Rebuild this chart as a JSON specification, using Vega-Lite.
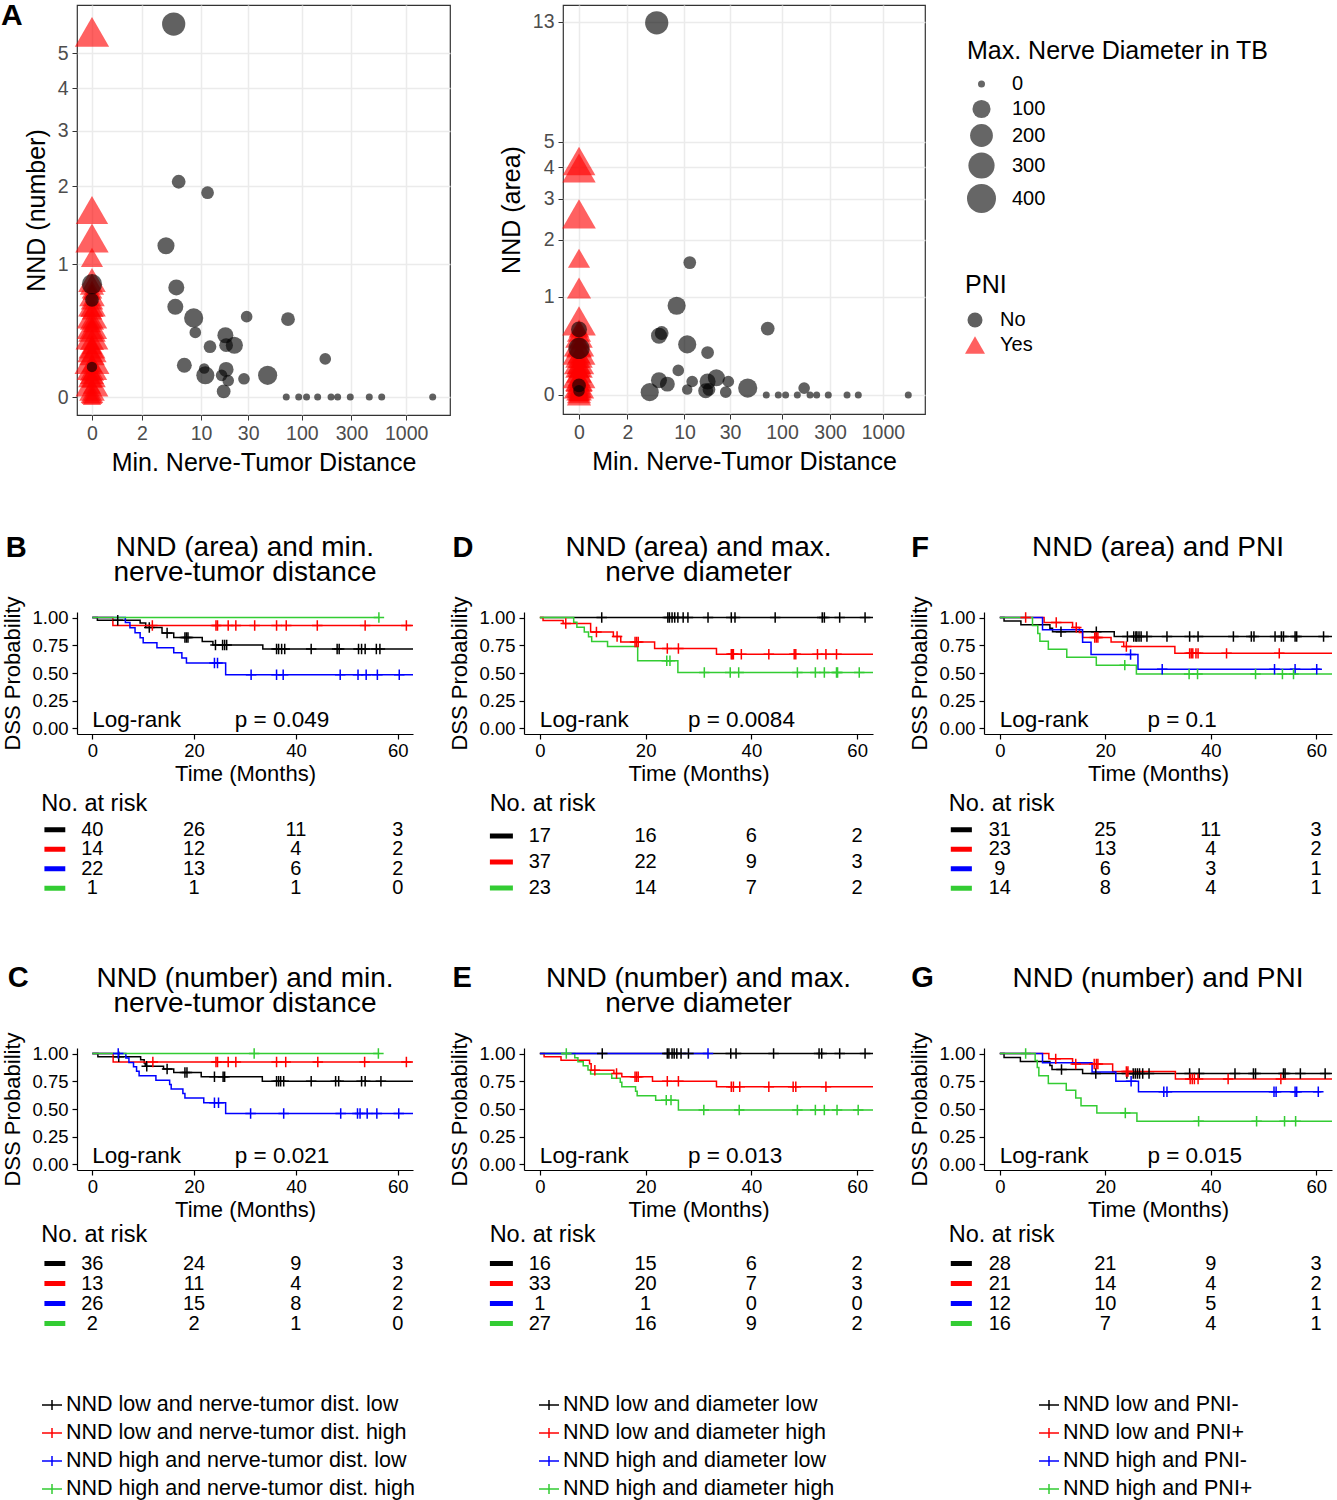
{
"$schema": "https://vega.github.io/schema/vega-lite/v6.json",
"padding": {"left": 0, "top": 0, "right": 2, "bottom": 2},
"background": "white",
"config": {
  "font": "Liberation Sans",
  "view": {"stroke": null},
  "axis": {"labelFont": "Liberation Sans", "titleFont": "Liberation Sans", "titleFontWeight": "normal", "labelOverlap": false, "labelFlush": false},
  "legend": {"labelFont": "Liberation Sans", "titleFont": "Liberation Sans", "titleFontWeight": "normal", "labelLimit": 600, "titleLimit": 600},
  "text": {"font": "Liberation Sans"}
},
"datasets": {
"sc1": [
{"d":0,"v":5.7,"m":283,"pni":"Yes"},{"d":0,"v":1.65,"m":239,"pni":"Yes"},{"d":0,"v":1.29,"m":262,"pni":"Yes"},{"d":0,"v":1.07,"m":75,"pni":"Yes"},
{"d":0,"v":0.84,"m":150,"pni":"Yes"},{"d":0,"v":0.8,"m":100,"pni":"Yes"},{"d":0,"v":0.75,"m":60,"pni":"Yes"},{"d":0,"v":0.73,"m":40,"pni":"Yes"},{"d":0,"v":0.7,"m":120,"pni":"Yes"},{"d":0,"v":0.66,"m":80,"pni":"Yes"},{"d":0,"v":0.62,"m":150,"pni":"Yes"},{"d":0,"v":0.6,"m":90,"pni":"Yes"},{"d":0,"v":0.57,"m":60,"pni":"Yes"},{"d":0,"v":0.53,"m":200,"pni":"Yes"},{"d":0,"v":0.5,"m":100,"pni":"Yes"},{"d":0,"v":0.46,"m":40,"pni":"Yes"},{"d":0,"v":0.45,"m":200,"pni":"Yes"},{"d":0,"v":0.42,"m":150,"pni":"Yes"},{"d":0,"v":0.38,"m":250,"pni":"Yes"},{"d":0,"v":0.35,"m":100,"pni":"Yes"},{"d":0,"v":0.31,"m":60,"pni":"Yes"},{"d":0,"v":0.3,"m":140,"pni":"Yes"},{"d":0,"v":0.28,"m":180,"pni":"Yes"},{"d":0,"v":0.25,"m":120,"pni":"Yes"},{"d":0,"v":0.22,"m":300,"pni":"Yes"},{"d":0,"v":0.19,"m":60,"pni":"Yes"},{"d":0,"v":0.17,"m":200,"pni":"Yes"},{"d":0,"v":0.15,"m":100,"pni":"Yes"},{"d":0,"v":0.13,"m":100,"pni":"Yes"},{"d":0,"v":0.12,"m":150,"pni":"Yes"},{"d":0,"v":0.1,"m":60,"pni":"Yes"},{"d":0,"v":0.08,"m":250,"pni":"Yes"},{"d":0,"v":0.06,"m":40,"pni":"Yes"},{"d":0,"v":0.04,"m":120,"pni":"Yes"},{"d":0,"v":0.02,"m":80,"pni":"Yes"},{"d":0,"v":0.01,"m":60,"pni":"Yes"},{"d":0,"v":0,"m":40,"pni":"Yes"},
{"d":0,"v":0.8,"m":140,"pni":"No"},{"d":0,"v":0.66,"m":40,"pni":"No"},{"d":0,"v":0.17,"m":13,"pni":"No"},
{"d":5.03,"v":5.98,"m":212,"pni":"No"},{"d":5.73,"v":2.07,"m":40,"pni":"No"},{"d":11.7,"v":1.9,"m":30,"pni":"No"},{"d":4.09,"v":1.2,"m":83,"pni":"No"},{"d":5.39,"v":0.77,"m":67,"pni":"No"},{"d":5.25,"v":0.6,"m":67,"pni":"No"},{"d":8.36,"v":0.51,"m":119,"pni":"No"},{"d":29,"v":0.52,"m":21,"pni":"No"},{"d":73.5,"v":0.5,"m":40,"pni":"No"},{"d":8.7,"v":0.4,"m":21,"pni":"No"},{"d":17.8,"v":0.38,"m":67,"pni":"No"},{"d":12.4,"v":0.3,"m":30,"pni":"No"},{"d":18.1,"v":0.31,"m":40,"pni":"No"},{"d":21.9,"v":0.31,"m":83,"pni":"No"},{"d":168,"v":0.22,"m":21,"pni":"No"},{"d":6.62,"v":0.18,"m":53,"pni":"No"},{"d":10.8,"v":0.16,"m":13,"pni":"No"},{"d":11.1,"v":0.12,"m":100,"pni":"No"},{"d":18.1,"v":0.155,"m":53,"pni":"No"},{"d":16.3,"v":0.12,"m":21,"pni":"No"},{"d":19,"v":0.09,"m":21,"pni":"No"},{"d":27.3,"v":0.1,"m":21,"pni":"No"},{"d":46.6,"v":0.12,"m":119,"pni":"No"},{"d":17.1,"v":0.03,"m":40,"pni":"No"},
{"d":70.7,"v":0,"m":0,"pni":"No"},{"d":93.3,"v":0,"m":0,"pni":"No"},{"d":111,"v":0,"m":0,"pni":"No"},{"d":142,"v":0,"m":0,"pni":"No"},{"d":191,"v":0,"m":0,"pni":"No"},{"d":221,"v":0,"m":0,"pni":"No"},{"d":292,"v":0,"m":0,"pni":"No"},{"d":444,"v":0,"m":0,"pni":"No"},{"d":584,"v":0,"m":0,"pni":"No"},{"d":1794,"v":0,"m":0,"pni":"No"}
],
"sc2": [
{"d":0,"v":4.23,"m":250,"pni":"Yes"},{"d":0,"v":3.98,"m":262,"pni":"Yes"},{"d":0,"v":2.6,"m":270,"pni":"Yes"},{"d":0,"v":1.63,"m":75,"pni":"Yes"},{"d":0,"v":1.13,"m":100,"pni":"Yes"},{"d":0,"v":0.69,"m":270,"pni":"Yes"},
{"d":0,"v":0.6,"m":60,"pni":"Yes"},{"d":0,"v":0.57,"m":100,"pni":"Yes"},{"d":0,"v":0.52,"m":150,"pni":"Yes"},{"d":0,"v":0.47,"m":60,"pni":"Yes"},{"d":0,"v":0.44,"m":200,"pni":"Yes"},{"d":0,"v":0.41,"m":120,"pni":"Yes"},{"d":0,"v":0.37,"m":250,"pni":"Yes"},{"d":0,"v":0.34,"m":80,"pni":"Yes"},{"d":0,"v":0.32,"m":150,"pni":"Yes"},{"d":0,"v":0.29,"m":60,"pni":"Yes"},{"d":0,"v":0.27,"m":200,"pni":"Yes"},{"d":0,"v":0.25,"m":100,"pni":"Yes"},{"d":0,"v":0.23,"m":150,"pni":"Yes"},{"d":0,"v":0.22,"m":90,"pni":"Yes"},{"d":0,"v":0.2,"m":60,"pni":"Yes"},{"d":0,"v":0.18,"m":120,"pni":"Yes"},{"d":0,"v":0.16,"m":250,"pni":"Yes"},{"d":0,"v":0.14,"m":80,"pni":"Yes"},{"d":0,"v":0.12,"m":150,"pni":"Yes"},{"d":0,"v":0.11,"m":140,"pni":"Yes"},{"d":0,"v":0.1,"m":60,"pni":"Yes"},{"d":0,"v":0.08,"m":100,"pni":"Yes"},{"d":0,"v":0.07,"m":200,"pni":"Yes"},{"d":0,"v":0.06,"m":120,"pni":"Yes"},{"d":0,"v":0.05,"m":40,"pni":"Yes"},{"d":0,"v":0.04,"m":120,"pni":"Yes"},{"d":0,"v":0.03,"m":80,"pni":"Yes"},{"d":0,"v":0.02,"m":60,"pni":"Yes"},{"d":0,"v":0.015,"m":100,"pni":"Yes"},{"d":0,"v":0.01,"m":40,"pni":"Yes"},{"d":0,"v":0,"m":100,"pni":"Yes"},
{"d":0,"v":0.59,"m":67,"pni":"No"},{"d":0,"v":0.39,"m":162,"pni":"No"},{"d":0,"v":0.07,"m":40,"pni":"No"},{"d":0,"v":0.03,"m":21,"pni":"No"},
{"d":4.85,"v":12.9,"m":212,"pni":"No"},{"d":11.4,"v":1.55,"m":30,"pni":"No"},{"d":8.2,"v":0.88,"m":100,"pni":"No"},{"d":5.55,"v":0.55,"m":40,"pni":"No"},{"d":5.16,"v":0.52,"m":67,"pni":"No"},{"d":72,"v":0.6,"m":40,"pni":"No"},{"d":10.7,"v":0.43,"m":100,"pni":"No"},{"d":17.6,"v":0.35,"m":30,"pni":"No"},{"d":8.55,"v":0.19,"m":21,"pni":"No"},{"d":5.16,"v":0.11,"m":67,"pni":"No"},{"d":6.45,"v":0.08,"m":53,"pni":"No"},{"d":12.1,"v":0.1,"m":21,"pni":"No"},{"d":21.7,"v":0.13,"m":83,"pni":"No"},{"d":17.6,"v":0.1,"m":67,"pni":"No"},{"d":28.8,"v":0.1,"m":21,"pni":"No"},{"d":10.7,"v":0.04,"m":13,"pni":"No"},{"d":16.8,"v":0.03,"m":53,"pni":"No"},{"d":18.2,"v":0.04,"m":30,"pni":"No"},{"d":27.1,"v":0.02,"m":21,"pni":"No"},{"d":3.99,"v":0.02,"m":100,"pni":"No"},{"d":45.3,"v":0.05,"m":119,"pni":"No"},{"d":166,"v":0.05,"m":21,"pni":"No"},
{"d":69.6,"v":0,"m":0,"pni":"No"},{"d":91.8,"v":0,"m":0,"pni":"No"},{"d":108.6,"v":0,"m":0,"pni":"No"},{"d":142,"v":0,"m":0,"pni":"No"},{"d":190,"v":0,"m":0,"pni":"No"},{"d":221,"v":0,"m":0,"pni":"No"},{"d":288,"v":0,"m":0,"pni":"No"},{"d":442,"v":0,"m":0,"pni":"No"},{"d":571,"v":0,"m":0,"pni":"No"},{"d":1781,"v":0,"m":0,"pni":"No"}
],
"km": [
{"p":"B","g":"LL","t":0,"s":1},{"p":"B","g":"LL","t":1,"s":0.975},{"p":"B","g":"LL","t":9.4,"s":0.95},{"p":"B","g":"LL","t":10.5,"s":0.91},{"p":"B","g":"LL","t":13.7,"s":0.86},{"p":"B","g":"LL","t":16,"s":0.82},{"p":"B","g":"LL","t":21.6,"s":0.785},{"p":"B","g":"LL","t":23.7,"s":0.753},{"p":"B","g":"LL","t":33.5,"s":0.717},{"p":"B","g":"LL","t":63,"s":0.717},
{"p":"B","g":"LH","t":0,"s":1},{"p":"B","g":"LH","t":4.05,"s":0.929},{"p":"B","g":"LH","t":63,"s":0.929},
{"p":"B","g":"HL","t":0,"s":1},{"p":"B","g":"HL","t":6.5,"s":0.955},{"p":"B","g":"HL","t":7.4,"s":0.909},{"p":"B","g":"HL","t":8.4,"s":0.864},{"p":"B","g":"HL","t":9.4,"s":0.818},{"p":"B","g":"HL","t":10,"s":0.773},{"p":"B","g":"HL","t":12.7,"s":0.727},{"p":"B","g":"HL","t":16,"s":0.682},{"p":"B","g":"HL","t":17.6,"s":0.636},{"p":"B","g":"HL","t":18.5,"s":0.591},{"p":"B","g":"HL","t":26.2,"s":0.485},{"p":"B","g":"HL","t":63,"s":0.485},
{"p":"B","g":"HH","t":0,"s":1},{"p":"B","g":"HH","t":56.4,"s":1},
{"p":"D","g":"LL","t":0,"s":1},{"p":"D","g":"LL","t":63,"s":1},
{"p":"D","g":"LH","t":0,"s":1},{"p":"D","g":"LH","t":0.6,"s":0.973},{"p":"D","g":"LH","t":4.4,"s":0.946},{"p":"D","g":"LH","t":9.6,"s":0.87},{"p":"D","g":"LH","t":13.9,"s":0.83},{"p":"D","g":"LH","t":15.3,"s":0.78},{"p":"D","g":"LH","t":21.7,"s":0.72},{"p":"D","g":"LH","t":33.4,"s":0.67},{"p":"D","g":"LH","t":63,"s":0.67},
{"p":"D","g":"HH","t":0,"s":1},{"p":"D","g":"HH","t":6.4,"s":0.957},{"p":"D","g":"HH","t":7,"s":0.913},{"p":"D","g":"HH","t":8.4,"s":0.87},{"p":"D","g":"HH","t":9.2,"s":0.826},{"p":"D","g":"HH","t":9.8,"s":0.783},{"p":"D","g":"HH","t":12.8,"s":0.74},{"p":"D","g":"HH","t":18.5,"s":0.61},{"p":"D","g":"HH","t":26.1,"s":0.505},{"p":"D","g":"HH","t":63,"s":0.505},
{"p":"F","g":"LL","t":0,"s":1},{"p":"F","g":"LL","t":0.8,"s":0.968},{"p":"F","g":"LL","t":4,"s":0.935},{"p":"F","g":"LL","t":9.5,"s":0.903},{"p":"F","g":"LL","t":10,"s":0.871},{"p":"F","g":"LL","t":21.7,"s":0.83},{"p":"F","g":"LL","t":63,"s":0.83},
{"p":"F","g":"LH","t":0,"s":1},{"p":"F","g":"LH","t":8.4,"s":0.955},{"p":"F","g":"LH","t":13.8,"s":0.91},{"p":"F","g":"LH","t":15.1,"s":0.865},{"p":"F","g":"LH","t":15.7,"s":0.82},{"p":"F","g":"LH","t":21.1,"s":0.78},{"p":"F","g":"LH","t":23.5,"s":0.74},{"p":"F","g":"LH","t":33.2,"s":0.677},{"p":"F","g":"LH","t":63,"s":0.677},
{"p":"F","g":"HL","t":0,"s":1},{"p":"F","g":"HL","t":8.1,"s":0.889},{"p":"F","g":"HL","t":15.7,"s":0.778},{"p":"F","g":"HL","t":17.3,"s":0.667},{"p":"F","g":"HL","t":26.2,"s":0.533},{"p":"F","g":"HL","t":60.8,"s":0.533},
{"p":"F","g":"HH","t":0,"s":1},{"p":"F","g":"HH","t":6.2,"s":0.929},{"p":"F","g":"HH","t":7.2,"s":0.857},{"p":"F","g":"HH","t":7.6,"s":0.786},{"p":"F","g":"HH","t":9.2,"s":0.714},{"p":"F","g":"HH","t":12.7,"s":0.643},{"p":"F","g":"HH","t":18.3,"s":0.571},{"p":"F","g":"HH","t":25.9,"s":0.49},{"p":"F","g":"HH","t":63,"s":0.49},
{"p":"C","g":"LL","t":0,"s":1},{"p":"C","g":"LL","t":1.1,"s":0.972},{"p":"C","g":"LL","t":9.5,"s":0.944},{"p":"C","g":"LL","t":10.2,"s":0.915},{"p":"C","g":"LL","t":10.4,"s":0.886},{"p":"C","g":"LL","t":14,"s":0.86},{"p":"C","g":"LL","t":16,"s":0.83},{"p":"C","g":"LL","t":21.4,"s":0.79},{"p":"C","g":"LL","t":33.4,"s":0.75},{"p":"C","g":"LL","t":63,"s":0.75},
{"p":"C","g":"LH","t":0,"s":1},{"p":"C","g":"LH","t":4.1,"s":0.923},{"p":"C","g":"LH","t":63,"s":0.923},
{"p":"C","g":"HL","t":0,"s":1},{"p":"C","g":"HL","t":6.6,"s":0.96},{"p":"C","g":"HL","t":7.2,"s":0.92},{"p":"C","g":"HL","t":8.1,"s":0.88},{"p":"C","g":"HL","t":8.7,"s":0.84},{"p":"C","g":"HL","t":9.2,"s":0.8},{"p":"C","g":"HL","t":12.5,"s":0.76},{"p":"C","g":"HL","t":15.2,"s":0.72},{"p":"C","g":"HL","t":15.5,"s":0.68},{"p":"C","g":"HL","t":17.8,"s":0.64},{"p":"C","g":"HL","t":18.2,"s":0.6},{"p":"C","g":"HL","t":21.9,"s":0.556},{"p":"C","g":"HL","t":26.2,"s":0.46},{"p":"C","g":"HL","t":63,"s":0.46},
{"p":"C","g":"HH","t":0,"s":1},{"p":"C","g":"HH","t":56.4,"s":1},
{"p":"E","g":"LL","t":0,"s":1},{"p":"E","g":"LL","t":63,"s":1},
{"p":"E","g":"LH","t":0,"s":1},{"p":"E","g":"LH","t":0.8,"s":0.97},{"p":"E","g":"LH","t":4,"s":0.94},{"p":"E","g":"LH","t":9.4,"s":0.909},{"p":"E","g":"LH","t":9.7,"s":0.85},{"p":"E","g":"LH","t":14,"s":0.82},{"p":"E","g":"LH","t":15.5,"s":0.79},{"p":"E","g":"LH","t":21.3,"s":0.75},{"p":"E","g":"LH","t":33.4,"s":0.7},{"p":"E","g":"LH","t":63,"s":0.7},
{"p":"E","g":"HH","t":0,"s":1},{"p":"E","g":"HH","t":6.6,"s":0.963},{"p":"E","g":"HH","t":7.2,"s":0.926},{"p":"E","g":"HH","t":8.2,"s":0.889},{"p":"E","g":"HH","t":9.1,"s":0.852},{"p":"E","g":"HH","t":9.6,"s":0.815},{"p":"E","g":"HH","t":13.6,"s":0.778},{"p":"E","g":"HH","t":15.2,"s":0.741},{"p":"E","g":"HH","t":15.5,"s":0.7},{"p":"E","g":"HH","t":18.1,"s":0.66},{"p":"E","g":"HH","t":18.4,"s":0.62},{"p":"E","g":"HH","t":21.9,"s":0.58},{"p":"E","g":"HH","t":26.2,"s":0.49},{"p":"E","g":"HH","t":63,"s":0.49},
{"p":"E","g":"HL","t":0,"s":1},{"p":"E","g":"HL","t":31.8,"s":1},
{"p":"G","g":"LL","t":0,"s":1},{"p":"G","g":"LL","t":0.8,"s":0.964},{"p":"G","g":"LL","t":3.9,"s":0.929},{"p":"G","g":"LL","t":9.5,"s":0.893},{"p":"G","g":"LL","t":9.9,"s":0.857},{"p":"G","g":"LL","t":15.7,"s":0.82},{"p":"G","g":"LL","t":63,"s":0.82},
{"p":"G","g":"LH","t":0,"s":1},{"p":"G","g":"LH","t":9.3,"s":0.952},{"p":"G","g":"LH","t":13.8,"s":0.905},{"p":"G","g":"LH","t":21.4,"s":0.838},{"p":"G","g":"LH","t":33.3,"s":0.77},{"p":"G","g":"LH","t":63,"s":0.77},
{"p":"G","g":"HL","t":0,"s":1},{"p":"G","g":"HL","t":8.1,"s":0.917},{"p":"G","g":"HL","t":17.5,"s":0.833},{"p":"G","g":"HL","t":22,"s":0.75},{"p":"G","g":"HL","t":26.3,"s":0.655},{"p":"G","g":"HL","t":61,"s":0.655},
{"p":"G","g":"HH","t":0,"s":1},{"p":"G","g":"HH","t":6.7,"s":0.9375},{"p":"G","g":"HH","t":7.1,"s":0.875},{"p":"G","g":"HH","t":7.4,"s":0.8},{"p":"G","g":"HH","t":9.2,"s":0.73},{"p":"G","g":"HH","t":12.6,"s":0.67},{"p":"G","g":"HH","t":14.4,"s":0.6},{"p":"G","g":"HH","t":15.4,"s":0.53},{"p":"G","g":"HH","t":18.4,"s":0.465},{"p":"G","g":"HH","t":26,"s":0.39},{"p":"G","g":"HH","t":63,"s":0.39}
],
"cens": [
{"p":"B","g":"LL","t":5,"s":0.975},{"p":"B","g":"LL","t":11.2,"s":0.91},{"p":"B","g":"LL","t":14.7,"s":0.86},{"p":"B","g":"LL","t":18.2,"s":0.82},{"p":"B","g":"LL","t":18.5,"s":0.82},{"p":"B","g":"LL","t":18.8,"s":0.82},{"p":"B","g":"LL","t":24.2,"s":0.753},{"p":"B","g":"LL","t":25.6,"s":0.753},{"p":"B","g":"LL","t":26,"s":0.753},{"p":"B","g":"LL","t":26.4,"s":0.753},{"p":"B","g":"LL","t":36.2,"s":0.717},{"p":"B","g":"LL","t":36.6,"s":0.717},{"p":"B","g":"LL","t":37.2,"s":0.717},{"p":"B","g":"LL","t":37.8,"s":0.717},{"p":"B","g":"LL","t":43,"s":0.717},{"p":"B","g":"LL","t":48.1,"s":0.717},{"p":"B","g":"LL","t":48.5,"s":0.717},{"p":"B","g":"LL","t":52.3,"s":0.717},{"p":"B","g":"LL","t":52.9,"s":0.717},{"p":"B","g":"LL","t":53.6,"s":0.717},{"p":"B","g":"LL","t":55.8,"s":0.717},{"p":"B","g":"LL","t":56.5,"s":0.717},
{"p":"B","g":"LH","t":11.8,"s":0.929},{"p":"B","g":"LH","t":24.3,"s":0.929},{"p":"B","g":"LH","t":24.6,"s":0.929},{"p":"B","g":"LH","t":26.7,"s":0.929},{"p":"B","g":"LH","t":28.2,"s":0.929},{"p":"B","g":"LH","t":31.9,"s":0.929},{"p":"B","g":"LH","t":36.2,"s":0.929},{"p":"B","g":"LH","t":38.1,"s":0.929},{"p":"B","g":"LH","t":44.2,"s":0.929},{"p":"B","g":"LH","t":53.6,"s":0.929},{"p":"B","g":"LH","t":61.7,"s":0.929},
{"p":"B","g":"HL","t":24,"s":0.591},{"p":"B","g":"HL","t":24.6,"s":0.591},{"p":"B","g":"HL","t":31.2,"s":0.485},{"p":"B","g":"HL","t":36.2,"s":0.485},{"p":"B","g":"HL","t":37.5,"s":0.485},{"p":"B","g":"HL","t":48.7,"s":0.485},{"p":"B","g":"HL","t":52.2,"s":0.485},{"p":"B","g":"HL","t":53.8,"s":0.485},{"p":"B","g":"HL","t":56,"s":0.485},{"p":"B","g":"HL","t":60.3,"s":0.485},
{"p":"B","g":"HH","t":56.3,"s":1},
{"p":"D","g":"LL","t":11.7,"s":1},{"p":"D","g":"LL","t":24.2,"s":1},{"p":"D","g":"LL","t":24.5,"s":1},{"p":"D","g":"LL","t":25,"s":1},{"p":"D","g":"LL","t":25.5,"s":1},{"p":"D","g":"LL","t":26.1,"s":1},{"p":"D","g":"LL","t":27.1,"s":1},{"p":"D","g":"LL","t":28,"s":1},{"p":"D","g":"LL","t":31.8,"s":1},{"p":"D","g":"LL","t":36.2,"s":1},{"p":"D","g":"LL","t":36.9,"s":1},{"p":"D","g":"LL","t":44.5,"s":1},{"p":"D","g":"LL","t":53.4,"s":1},{"p":"D","g":"LL","t":53.8,"s":1},{"p":"D","g":"LL","t":56.7,"s":1},{"p":"D","g":"LL","t":61.5,"s":1},
{"p":"D","g":"LH","t":4.9,"s":0.946},{"p":"D","g":"LH","t":10.7,"s":0.87},{"p":"D","g":"LH","t":14.6,"s":0.83},{"p":"D","g":"LH","t":18,"s":0.78},{"p":"D","g":"LH","t":18.3,"s":0.78},{"p":"D","g":"LH","t":18.6,"s":0.78},{"p":"D","g":"LH","t":24.1,"s":0.72},{"p":"D","g":"LH","t":26.2,"s":0.72},{"p":"D","g":"LH","t":36.2,"s":0.67},{"p":"D","g":"LH","t":36.4,"s":0.67},{"p":"D","g":"LH","t":36.6,"s":0.67},{"p":"D","g":"LH","t":38.1,"s":0.67},{"p":"D","g":"LH","t":43.3,"s":0.67},{"p":"D","g":"LH","t":48.1,"s":0.67},{"p":"D","g":"LH","t":48.4,"s":0.67},{"p":"D","g":"LH","t":52.5,"s":0.67},{"p":"D","g":"LH","t":54.1,"s":0.67},{"p":"D","g":"LH","t":56.1,"s":0.67},
{"p":"D","g":"HH","t":24,"s":0.61},{"p":"D","g":"HH","t":24.6,"s":0.61},{"p":"D","g":"HH","t":31.1,"s":0.505},{"p":"D","g":"HH","t":36,"s":0.505},{"p":"D","g":"HH","t":37.6,"s":0.505},{"p":"D","g":"HH","t":48.7,"s":0.505},{"p":"D","g":"HH","t":52.1,"s":0.505},{"p":"D","g":"HH","t":53.8,"s":0.505},{"p":"D","g":"HH","t":56.1,"s":0.505},{"p":"D","g":"HH","t":56.3,"s":0.505},{"p":"D","g":"HH","t":60.4,"s":0.505},
{"p":"F","g":"LL","t":11.6,"s":0.871},{"p":"F","g":"LL","t":18.3,"s":0.871},{"p":"F","g":"LL","t":24.2,"s":0.83},{"p":"F","g":"LL","t":25.4,"s":0.83},{"p":"F","g":"LL","t":25.8,"s":0.83},{"p":"F","g":"LL","t":26,"s":0.83},{"p":"F","g":"LL","t":26.4,"s":0.83},{"p":"F","g":"LL","t":26.8,"s":0.83},{"p":"F","g":"LL","t":27.9,"s":0.83},{"p":"F","g":"LL","t":31.7,"s":0.83},{"p":"F","g":"LL","t":36,"s":0.83},{"p":"F","g":"LL","t":37.6,"s":0.83},{"p":"F","g":"LL","t":44.3,"s":0.83},{"p":"F","g":"LL","t":47.7,"s":0.83},{"p":"F","g":"LL","t":48.2,"s":0.83},{"p":"F","g":"LL","t":52.2,"s":0.83},{"p":"F","g":"LL","t":53.4,"s":0.83},{"p":"F","g":"LL","t":53.8,"s":0.83},{"p":"F","g":"LL","t":56,"s":0.83},{"p":"F","g":"LL","t":56.3,"s":0.83},{"p":"F","g":"LL","t":61.4,"s":0.83},
{"p":"F","g":"LH","t":4.9,"s":1},{"p":"F","g":"LH","t":10.7,"s":0.955},{"p":"F","g":"LH","t":14.5,"s":0.91},{"p":"F","g":"LH","t":18,"s":0.82},{"p":"F","g":"LH","t":18.3,"s":0.82},{"p":"F","g":"LH","t":18.6,"s":0.82},{"p":"F","g":"LH","t":24,"s":0.74},{"p":"F","g":"LH","t":36,"s":0.677},{"p":"F","g":"LH","t":36.3,"s":0.677},{"p":"F","g":"LH","t":36.6,"s":0.677},{"p":"F","g":"LH","t":37.2,"s":0.677},{"p":"F","g":"LH","t":37.6,"s":0.677},{"p":"F","g":"LH","t":43,"s":0.677},{"p":"F","g":"LH","t":53,"s":0.677},
{"p":"F","g":"HL","t":24.8,"s":0.667},{"p":"F","g":"HL","t":30.8,"s":0.533},{"p":"F","g":"HL","t":52.1,"s":0.533},{"p":"F","g":"HL","t":56,"s":0.533},{"p":"F","g":"HL","t":60.1,"s":0.533},
{"p":"F","g":"HH","t":23.7,"s":0.571},{"p":"F","g":"HH","t":35.9,"s":0.49},{"p":"F","g":"HH","t":37.5,"s":0.49},{"p":"F","g":"HH","t":48.5,"s":0.49},{"p":"F","g":"HH","t":53.6,"s":0.49},{"p":"F","g":"HH","t":55.7,"s":0.49},
{"p":"C","g":"LL","t":5.2,"s":0.972},{"p":"C","g":"LL","t":10.7,"s":0.886},{"p":"C","g":"LL","t":14.7,"s":0.86},{"p":"C","g":"LL","t":18.2,"s":0.83},{"p":"C","g":"LL","t":18.6,"s":0.83},{"p":"C","g":"LL","t":24,"s":0.79},{"p":"C","g":"LL","t":25.7,"s":0.79},{"p":"C","g":"LL","t":26,"s":0.79},{"p":"C","g":"LL","t":36.2,"s":0.75},{"p":"C","g":"LL","t":36.6,"s":0.75},{"p":"C","g":"LL","t":37,"s":0.75},{"p":"C","g":"LL","t":37.6,"s":0.75},{"p":"C","g":"LL","t":43,"s":0.75},{"p":"C","g":"LL","t":47.8,"s":0.75},{"p":"C","g":"LL","t":48.4,"s":0.75},{"p":"C","g":"LL","t":52.9,"s":0.75},{"p":"C","g":"LL","t":53.6,"s":0.75},{"p":"C","g":"LL","t":56.7,"s":0.75},
{"p":"C","g":"LH","t":11.9,"s":0.923},{"p":"C","g":"LH","t":24.3,"s":0.923},{"p":"C","g":"LH","t":24.6,"s":0.923},{"p":"C","g":"LH","t":26.7,"s":0.923},{"p":"C","g":"LH","t":28.2,"s":0.923},{"p":"C","g":"LH","t":36.2,"s":0.923},{"p":"C","g":"LH","t":38,"s":0.923},{"p":"C","g":"LH","t":44.3,"s":0.923},{"p":"C","g":"LH","t":53.5,"s":0.923},{"p":"C","g":"LH","t":61.7,"s":0.923},
{"p":"C","g":"HL","t":5.1,"s":1},{"p":"C","g":"HL","t":24,"s":0.556},{"p":"C","g":"HL","t":24.8,"s":0.556},{"p":"C","g":"HL","t":31.1,"s":0.46},{"p":"C","g":"HL","t":37.6,"s":0.46},{"p":"C","g":"HL","t":48.8,"s":0.46},{"p":"C","g":"HL","t":52.1,"s":0.46},{"p":"C","g":"HL","t":52.6,"s":0.46},{"p":"C","g":"HL","t":54,"s":0.46},{"p":"C","g":"HL","t":55.9,"s":0.46},{"p":"C","g":"HL","t":60.2,"s":0.46},
{"p":"C","g":"HH","t":31.8,"s":1},{"p":"C","g":"HH","t":56.2,"s":1},
{"p":"E","g":"LL","t":11.8,"s":1},{"p":"E","g":"LL","t":24.1,"s":1},{"p":"E","g":"LL","t":24.4,"s":1},{"p":"E","g":"LL","t":25,"s":1},{"p":"E","g":"LL","t":25.4,"s":1},{"p":"E","g":"LL","t":25.9,"s":1},{"p":"E","g":"LL","t":26.7,"s":1},{"p":"E","g":"LL","t":28.1,"s":1},{"p":"E","g":"LL","t":36.1,"s":1},{"p":"E","g":"LL","t":37.1,"s":1},{"p":"E","g":"LL","t":44.2,"s":1},{"p":"E","g":"LL","t":52.8,"s":1},{"p":"E","g":"LL","t":53.3,"s":1},{"p":"E","g":"LL","t":56.7,"s":1},{"p":"E","g":"LL","t":61.5,"s":1},
{"p":"E","g":"LH","t":10.4,"s":0.85},{"p":"E","g":"LH","t":14.5,"s":0.82},{"p":"E","g":"LH","t":18,"s":0.79},{"p":"E","g":"LH","t":18.3,"s":0.79},{"p":"E","g":"LH","t":18.6,"s":0.79},{"p":"E","g":"LH","t":24.1,"s":0.75},{"p":"E","g":"LH","t":26.2,"s":0.75},{"p":"E","g":"LH","t":36.2,"s":0.7},{"p":"E","g":"LH","t":36.6,"s":0.7},{"p":"E","g":"LH","t":37.8,"s":0.7},{"p":"E","g":"LH","t":43.3,"s":0.7},{"p":"E","g":"LH","t":47.9,"s":0.7},{"p":"E","g":"LH","t":48.4,"s":0.7},{"p":"E","g":"LH","t":54.1,"s":0.7},
{"p":"E","g":"HL","t":31.8,"s":1},
{"p":"E","g":"HH","t":5,"s":1},{"p":"E","g":"HH","t":23.9,"s":0.58},{"p":"E","g":"HH","t":24.8,"s":0.58},{"p":"E","g":"HH","t":31,"s":0.49},{"p":"E","g":"HH","t":37.7,"s":0.49},{"p":"E","g":"HH","t":48.7,"s":0.49},{"p":"E","g":"HH","t":52.1,"s":0.49},{"p":"E","g":"HH","t":53.8,"s":0.49},{"p":"E","g":"HH","t":56.2,"s":0.49},{"p":"E","g":"HH","t":60.2,"s":0.49},
{"p":"G","g":"LL","t":11.7,"s":0.857},{"p":"G","g":"LL","t":18.2,"s":0.82},{"p":"G","g":"LL","t":24.1,"s":0.82},{"p":"G","g":"LL","t":25.3,"s":0.82},{"p":"G","g":"LL","t":25.7,"s":0.82},{"p":"G","g":"LL","t":26.1,"s":0.82},{"p":"G","g":"LL","t":26.5,"s":0.82},{"p":"G","g":"LL","t":27.1,"s":0.82},{"p":"G","g":"LL","t":28.3,"s":0.82},{"p":"G","g":"LL","t":36,"s":0.82},{"p":"G","g":"LL","t":37.8,"s":0.82},{"p":"G","g":"LL","t":44.6,"s":0.82},{"p":"G","g":"LL","t":48.1,"s":0.82},{"p":"G","g":"LL","t":48.5,"s":0.82},{"p":"G","g":"LL","t":53.8,"s":0.82},{"p":"G","g":"LL","t":54.1,"s":0.82},{"p":"G","g":"LL","t":57,"s":0.82},{"p":"G","g":"LL","t":61.7,"s":0.82},
{"p":"G","g":"LH","t":10.6,"s":0.952},{"p":"G","g":"LH","t":14.4,"s":0.905},{"p":"G","g":"LH","t":17.9,"s":0.905},{"p":"G","g":"LH","t":18.3,"s":0.905},{"p":"G","g":"LH","t":18.6,"s":0.905},{"p":"G","g":"LH","t":24,"s":0.838},{"p":"G","g":"LH","t":24.3,"s":0.838},{"p":"G","g":"LH","t":36.1,"s":0.77},{"p":"G","g":"LH","t":36.5,"s":0.77},{"p":"G","g":"LH","t":36.9,"s":0.77},{"p":"G","g":"LH","t":37.6,"s":0.77},{"p":"G","g":"LH","t":43.3,"s":0.77},{"p":"G","g":"LH","t":53.3,"s":0.77},
{"p":"G","g":"HL","t":24.9,"s":0.75},{"p":"G","g":"HL","t":31.1,"s":0.655},{"p":"G","g":"HL","t":31.7,"s":0.655},{"p":"G","g":"HL","t":52,"s":0.655},{"p":"G","g":"HL","t":52.4,"s":0.655},{"p":"G","g":"HL","t":56,"s":0.655},{"p":"G","g":"HL","t":56.3,"s":0.655},{"p":"G","g":"HL","t":60.4,"s":0.655},
{"p":"G","g":"HH","t":4.9,"s":1},{"p":"G","g":"HH","t":23.8,"s":0.465},{"p":"G","g":"HH","t":37.7,"s":0.39},{"p":"G","g":"HH","t":48.7,"s":0.39},{"p":"G","g":"HH","t":54,"s":0.39},{"p":"G","g":"HH","t":56.1,"s":0.39}
],
"risk": [
{"p":"B","g":"LL","t":0,"n":40},{"p":"B","g":"LL","t":20,"n":26},{"p":"B","g":"LL","t":40,"n":11},{"p":"B","g":"LL","t":60,"n":3},
{"p":"B","g":"LH","t":0,"n":14},{"p":"B","g":"LH","t":20,"n":12},{"p":"B","g":"LH","t":40,"n":4},{"p":"B","g":"LH","t":60,"n":2},
{"p":"B","g":"HL","t":0,"n":22},{"p":"B","g":"HL","t":20,"n":13},{"p":"B","g":"HL","t":40,"n":6},{"p":"B","g":"HL","t":60,"n":2},
{"p":"B","g":"HH","t":0,"n":1},{"p":"B","g":"HH","t":20,"n":1},{"p":"B","g":"HH","t":40,"n":1},{"p":"B","g":"HH","t":60,"n":0},
{"p":"D","g":"LL","t":0,"n":17},{"p":"D","g":"LL","t":20,"n":16},{"p":"D","g":"LL","t":40,"n":6},{"p":"D","g":"LL","t":60,"n":2},
{"p":"D","g":"LH","t":0,"n":37},{"p":"D","g":"LH","t":20,"n":22},{"p":"D","g":"LH","t":40,"n":9},{"p":"D","g":"LH","t":60,"n":3},
{"p":"D","g":"HH","t":0,"n":23},{"p":"D","g":"HH","t":20,"n":14},{"p":"D","g":"HH","t":40,"n":7},{"p":"D","g":"HH","t":60,"n":2},
{"p":"F","g":"LL","t":0,"n":31},{"p":"F","g":"LL","t":20,"n":25},{"p":"F","g":"LL","t":40,"n":11},{"p":"F","g":"LL","t":60,"n":3},
{"p":"F","g":"LH","t":0,"n":23},{"p":"F","g":"LH","t":20,"n":13},{"p":"F","g":"LH","t":40,"n":4},{"p":"F","g":"LH","t":60,"n":2},
{"p":"F","g":"HL","t":0,"n":9},{"p":"F","g":"HL","t":20,"n":6},{"p":"F","g":"HL","t":40,"n":3},{"p":"F","g":"HL","t":60,"n":1},
{"p":"F","g":"HH","t":0,"n":14},{"p":"F","g":"HH","t":20,"n":8},{"p":"F","g":"HH","t":40,"n":4},{"p":"F","g":"HH","t":60,"n":1},
{"p":"C","g":"LL","t":0,"n":36},{"p":"C","g":"LL","t":20,"n":24},{"p":"C","g":"LL","t":40,"n":9},{"p":"C","g":"LL","t":60,"n":3},
{"p":"C","g":"LH","t":0,"n":13},{"p":"C","g":"LH","t":20,"n":11},{"p":"C","g":"LH","t":40,"n":4},{"p":"C","g":"LH","t":60,"n":2},
{"p":"C","g":"HL","t":0,"n":26},{"p":"C","g":"HL","t":20,"n":15},{"p":"C","g":"HL","t":40,"n":8},{"p":"C","g":"HL","t":60,"n":2},
{"p":"C","g":"HH","t":0,"n":2},{"p":"C","g":"HH","t":20,"n":2},{"p":"C","g":"HH","t":40,"n":1},{"p":"C","g":"HH","t":60,"n":0},
{"p":"E","g":"LL","t":0,"n":16},{"p":"E","g":"LL","t":20,"n":15},{"p":"E","g":"LL","t":40,"n":6},{"p":"E","g":"LL","t":60,"n":2},
{"p":"E","g":"LH","t":0,"n":33},{"p":"E","g":"LH","t":20,"n":20},{"p":"E","g":"LH","t":40,"n":7},{"p":"E","g":"LH","t":60,"n":3},
{"p":"E","g":"HL","t":0,"n":1},{"p":"E","g":"HL","t":20,"n":1},{"p":"E","g":"HL","t":40,"n":0},{"p":"E","g":"HL","t":60,"n":0},
{"p":"E","g":"HH","t":0,"n":27},{"p":"E","g":"HH","t":20,"n":16},{"p":"E","g":"HH","t":40,"n":9},{"p":"E","g":"HH","t":60,"n":2},
{"p":"G","g":"LL","t":0,"n":28},{"p":"G","g":"LL","t":20,"n":21},{"p":"G","g":"LL","t":40,"n":9},{"p":"G","g":"LL","t":60,"n":3},
{"p":"G","g":"LH","t":0,"n":21},{"p":"G","g":"LH","t":20,"n":14},{"p":"G","g":"LH","t":40,"n":4},{"p":"G","g":"LH","t":60,"n":2},
{"p":"G","g":"HL","t":0,"n":12},{"p":"G","g":"HL","t":20,"n":10},{"p":"G","g":"HL","t":40,"n":5},{"p":"G","g":"HL","t":60,"n":1},
{"p":"G","g":"HH","t":0,"n":16},{"p":"G","g":"HH","t":20,"n":7},{"p":"G","g":"HH","t":40,"n":4},{"p":"G","g":"HH","t":60,"n":1}
]
},
"spacing": 56,
"resolve": {"scale": {"color": "independent", "size": "independent", "shape": "independent"}, "legend": {"color": "independent", "size": "independent", "shape": "independent"}},
"vconcat": [
{
 "spacing": 47,
 "resolve": {"scale": {"color": "independent", "size": "independent", "shape": "independent"}, "legend": {"color": "independent", "size": "independent", "shape": "independent"}},
 "hconcat": [
  {
   "width": 373, "height": 410,
   "view": {"stroke": "#333333", "strokeWidth": 1.2},
   "layer": [
    {
     "data": {"name": "sc1"},
     "mark": {"type": "point", "filled": true, "opacity": 0.62, "strokeWidth": 0},
     "encoding": {
      "x": {"field": "d", "type": "quantitative", "scale": {"type": "symlog", "constant": 1, "domain": [-0.39, 2625], "nice": false, "zero": false},
            "axis": {"values": [0,2,10,30,100,300,1000], "tickCount": 10, "format": "d", "title": "Min. Nerve-Tumor Distance", "grid": true, "gridColor": "#EBEBEB", "gridWidth": 1.5, "domain": false, "tickColor": "#333333", "tickSize": 5, "labelFontSize": 19.5, "labelColor": "#4D4D4D", "labelPadding": 4, "titleFontSize": 25, "titleColor": "#000000", "titlePadding": 8}},
      "y": {"field": "v", "type": "quantitative", "scale": {"type": "symlog", "constant": 1, "domain": [-0.098, 6.71], "nice": false, "zero": false},
            "axis": {"values": [0,1,2,3,4,5], "tickCount": 10, "format": "d", "title": "NND (number)", "grid": true, "gridColor": "#EBEBEB", "gridWidth": 1.5, "domain": false, "tickColor": "#333333", "tickSize": 5, "labelFontSize": 19.5, "labelColor": "#4D4D4D", "labelPadding": 4, "titleFontSize": 25, "titleColor": "#000000", "titlePadding": 8}},
      "size": {"field": "m", "type": "quantitative", "scale": {"type": "pow", "exponent": 0.75, "domain": [0, 400], "range": [49, 841]}, "legend": null},
      "shape": {"field": "pni", "type": "nominal", "scale": {"domain": ["No", "Yes"], "range": ["circle", "M0,-1.1547L1.3333,1.1547L-1.3333,1.1547Z"]}, "legend": null},
      "color": {"field": "pni", "type": "nominal", "scale": {"domain": ["No", "Yes"], "range": ["#000000", "#FF0000"]}, "legend": null}
     }
    },
    {
     "data": {"values": [{}]},
     "mark": {"type": "text", "text": "A", "fontSize": 30, "fontWeight": "bold", "align": "left", "baseline": "alphabetic", "color": "#000000"},
     "encoding": {"x": {"datum": -6.4, "type": "quantitative"}, "y": {"datum": 5.95, "type": "quantitative"}}
    }
   ]
  },
  {
   "width": 362, "height": 409,
   "view": {"stroke": "#333333", "strokeWidth": 1.2},
   "data": {"name": "sc2"},
   "mark": {"type": "point", "filled": true, "opacity": 0.62, "strokeWidth": 0},
   "encoding": {
    "x": {"field": "d", "type": "quantitative", "scale": {"type": "symlog", "constant": 1, "domain": [-0.439, 2605], "nice": false, "zero": false},
          "axis": {"values": [0,2,10,30,100,300,1000], "tickCount": 10, "format": "d", "title": "Min. Nerve-Tumor Distance", "grid": true, "gridColor": "#EBEBEB", "gridWidth": 1.5, "domain": false, "tickColor": "#333333", "tickSize": 5, "labelFontSize": 19.5, "labelColor": "#4D4D4D", "labelPadding": 4, "titleFontSize": 25, "titleColor": "#000000", "titlePadding": 8}},
    "y": {"field": "v", "type": "quantitative", "scale": {"type": "symlog", "constant": 1, "domain": [-0.144, 14.77], "nice": false, "zero": false},
          "axis": {"values": [0,1,2,3,4,5,13], "tickCount": 10, "format": "d", "title": "NND (area)", "grid": true, "gridColor": "#EBEBEB", "gridWidth": 1.5, "domain": false, "tickColor": "#333333", "tickSize": 5, "labelFontSize": 19.5, "labelColor": "#4D4D4D", "labelPadding": 4, "titleFontSize": 25, "titleColor": "#000000", "titlePadding": 8}},
    "size": {"field": "m", "type": "quantitative", "scale": {"type": "pow", "exponent": 0.75, "domain": [0, 400], "range": [49, 841]},
             "legend": {"title": "Max. Nerve Diameter in TB", "values": [0,100,200,300,400], "orient": "none", "legendX": 404, "legendY": 34, "titleFontSize": 25, "titleColor": "#000000", "labelFontSize": 20, "labelColor": "#000000", "symbolType": "circle", "symbolFillColor": "#666666", "symbolStrokeWidth": 0, "symbolOpacity": 1, "labelOffset": 16, "rowPadding": 5, "titlePadding": 10}},
    "shape": {"field": "pni", "type": "nominal", "scale": {"domain": ["No", "Yes"], "range": ["circle", "M0,-1.1547L1.3333,1.1547L-1.3333,1.1547Z"]},
              "legend": {"title": "PNI", "orient": "none", "legendX": 402, "legendY": 268, "titleFontSize": 25, "titleColor": "#000000", "labelFontSize": 20, "labelColor": "#000000", "symbolSize": 225, "symbolOpacity": 0.62, "labelOffset": 15, "rowPadding": 2, "titlePadding": 12}},
    "color": {"field": "pni", "type": "nominal", "scale": {"domain": ["No", "Yes"], "range": ["#000000", "#FF0000"]},
              "legend": {"title": "PNI", "orient": "none", "legendX": 402, "legendY": 268, "titleFontSize": 25, "titleColor": "#000000", "labelFontSize": 20, "labelColor": "#000000", "symbolSize": 225, "symbolOpacity": 0.62, "labelOffset": 15, "rowPadding": 2, "titlePadding": 12}}
   }
  }
 ]
},
{
 "spacing": 65,
 "resolve": {"scale": {"color": "independent", "size": "independent", "shape": "independent"}, "legend": {"color": "independent", "size": "independent", "shape": "independent"}},
 "vconcat": [
 {
  "spacing": 32,
  "resolve": {"scale": {"color": "independent"}, "legend": {"color": "independent"}},
  "hconcat": [
   {
    "width": 336, "height": 122,
    "resolve": {"scale": {"y": "independent"}},
    "layer": [
     {"layer": [
      {"data": {"name": "km"}, "transform": [{"filter": "datum.p == 'B'"}],
       "mark": {"type": "line", "interpolate": "step-after", "strokeWidth": 1.5},
       "encoding": {
        "x": {"field": "t", "type": "quantitative", "scale": {"domain": [-3, 63], "nice": false, "zero": false}, "axis": {"values": [0,20,40,60], "tickCount": 8, "title": "Time (Months)", "grid": false, "domainColor": "#000000", "domainWidth": 1.2, "tickColor": "#000000", "tickWidth": 1.2, "tickSize": 5, "labelFontSize": 18.5, "labelColor": "#000000", "labelPadding": 2, "titleFontSize": 22, "titleColor": "#000000", "titlePadding": 4}},
        "y": {"field": "s", "type": "quantitative", "scale": {"domain": [-0.05, 1.05], "nice": false, "zero": false}, "axis": {"values": [0,0.25,0.5,0.75,1], "tickCount": 10, "format": ".2f", "title": "DSS Probability", "grid": false, "domainColor": "#000000", "domainWidth": 1.2, "tickColor": "#000000", "tickWidth": 1.2, "tickSize": 5, "labelFontSize": 18.5, "labelColor": "#000000", "labelPadding": 4, "titleFontSize": 22, "titleColor": "#000000", "titlePadding": 7}},
        "color": {"field": "g", "type": "nominal", "scale": {"domain": ["LL","LH","HL","HH"], "range": ["#000000","#FF0000","#0000FF","#33CC33"]}, "legend": null}
       }},
      {"data": {"name": "cens"}, "transform": [{"filter": "datum.p == 'B'"}],
       "mark": {"type": "point", "shape": "M-1,0H1M0,-1V1", "size": 110, "filled": false, "strokeWidth": 1.5, "opacity": 1},
       "encoding": {"x": {"field": "t", "type": "quantitative"}, "y": {"field": "s", "type": "quantitative"}, "color": {"field": "g", "type": "nominal", "legend": null}}},
      {"data": {"values": [{}]}, "mark": {"type": "text", "text": ["NND (area) and min.", "nerve-tumor distance"], "fontSize": 28, "lineHeight": 25, "align": "center", "baseline": "top", "color": "#000000"},
       "encoding": {"x": {"datum": 30, "type": "quantitative"}, "y": {"datum": 1.75, "type": "quantitative"}}},
      {"data": {"values": [{}]}, "mark": {"type": "text", "text": "Log-rank", "fontSize": 22.5, "align": "left", "baseline": "alphabetic", "color": "#000000"},
       "encoding": {"x": {"datum": 0, "type": "quantitative"}, "y": {"datum": 0.015, "type": "quantitative"}}},
      {"data": {"values": [{}]}, "mark": {"type": "text", "text": "p = 0.049", "fontSize": 22.5, "align": "left", "baseline": "alphabetic", "color": "#000000"},
       "encoding": {"x": {"datum": 28, "type": "quantitative"}, "y": {"datum": 0.015, "type": "quantitative"}}},
      {"data": {"values": [{}]}, "mark": {"type": "text", "text": "B", "fontSize": 29, "fontWeight": "bold", "align": "left", "baseline": "alphabetic", "color": "#000000"},
       "encoding": {"x": {"datum": -17, "type": "quantitative"}, "y": {"datum": 1.55, "type": "quantitative"}}},
      {"data": {"values": [{}]}, "mark": {"type": "text", "text": "No. at risk", "fontSize": 23.5, "align": "left", "baseline": "middle", "color": "#000000"},
       "encoding": {"x": {"datum": -10, "type": "quantitative"}, "y": {"datum": -0.681, "type": "quantitative"}}}
     ]},
     {"layer": [
      {"data": {"name": "risk"}, "transform": [{"filter": "datum.p == 'B'"}],
       "mark": {"type": "text", "fontSize": 20, "baseline": "middle", "color": "#000000"},
       "encoding": {"x": {"field": "t", "type": "quantitative"}, "y": {"field": "g", "type": "nominal", "scale": {"type": "point", "domain": ["LL","LH","HL","HH"], "range": [208, 286], "padding": 0.5}, "axis": null}, "text": {"field": "n", "type": "quantitative"}}},
      {"data": {"name": "risk"}, "transform": [{"filter": "datum.p == 'B' && datum.t == 0"}],
       "mark": {"type": "rule", "strokeWidth": 5},
       "encoding": {"x": {"datum": -9.4, "type": "quantitative"}, "x2": {"datum": -5.3}, "y": {"field": "g", "type": "nominal", "axis": null}, "color": {"field": "g", "type": "nominal", "legend": null}}}
     ]}
    ]
   },
   {
    "width": 349, "height": 122,
    "resolve": {"scale": {"y": "independent"}},
    "layer": [
     {"layer": [
      {"data": {"name": "km"}, "transform": [{"filter": "datum.p == 'D'"}],
       "mark": {"type": "line", "interpolate": "step-after", "strokeWidth": 1.5},
       "encoding": {
        "x": {"field": "t", "type": "quantitative", "scale": {"domain": [-3, 63], "nice": false, "zero": false}, "axis": {"values": [0,20,40,60], "tickCount": 8, "title": "Time (Months)", "grid": false, "domainColor": "#000000", "domainWidth": 1.2, "tickColor": "#000000", "tickWidth": 1.2, "tickSize": 5, "labelFontSize": 18.5, "labelColor": "#000000", "labelPadding": 2, "titleFontSize": 22, "titleColor": "#000000", "titlePadding": 4}},
        "y": {"field": "s", "type": "quantitative", "scale": {"domain": [-0.05, 1.05], "nice": false, "zero": false}, "axis": {"values": [0,0.25,0.5,0.75,1], "tickCount": 10, "format": ".2f", "title": "DSS Probability", "grid": false, "domainColor": "#000000", "domainWidth": 1.2, "tickColor": "#000000", "tickWidth": 1.2, "tickSize": 5, "labelFontSize": 18.5, "labelColor": "#000000", "labelPadding": 4, "titleFontSize": 22, "titleColor": "#000000", "titlePadding": 7}},
        "color": {"field": "g", "type": "nominal", "scale": {"domain": ["LL","LH","HL","HH"], "range": ["#000000","#FF0000","#0000FF","#33CC33"]}, "legend": null}
       }},
      {"data": {"name": "cens"}, "transform": [{"filter": "datum.p == 'D'"}],
       "mark": {"type": "point", "shape": "M-1,0H1M0,-1V1", "size": 110, "filled": false, "strokeWidth": 1.5, "opacity": 1},
       "encoding": {"x": {"field": "t", "type": "quantitative"}, "y": {"field": "s", "type": "quantitative"}, "color": {"field": "g", "type": "nominal", "legend": null}}},
      {"data": {"values": [{}]}, "mark": {"type": "text", "text": ["NND (area) and max.", "nerve diameter"], "fontSize": 28, "lineHeight": 25, "align": "center", "baseline": "top", "color": "#000000"},
       "encoding": {"x": {"datum": 30, "type": "quantitative"}, "y": {"datum": 1.75, "type": "quantitative"}}},
      {"data": {"values": [{}]}, "mark": {"type": "text", "text": "Log-rank", "fontSize": 22.5, "align": "left", "baseline": "alphabetic", "color": "#000000"},
       "encoding": {"x": {"datum": 0, "type": "quantitative"}, "y": {"datum": 0.015, "type": "quantitative"}}},
      {"data": {"values": [{}]}, "mark": {"type": "text", "text": "p = 0.0084", "fontSize": 22.5, "align": "left", "baseline": "alphabetic", "color": "#000000"},
       "encoding": {"x": {"datum": 28, "type": "quantitative"}, "y": {"datum": 0.015, "type": "quantitative"}}},
      {"data": {"values": [{}]}, "mark": {"type": "text", "text": "D", "fontSize": 29, "fontWeight": "bold", "align": "left", "baseline": "alphabetic", "color": "#000000"},
       "encoding": {"x": {"datum": -16.5, "type": "quantitative"}, "y": {"datum": 1.55, "type": "quantitative"}}},
      {"data": {"values": [{}]}, "mark": {"type": "text", "text": "No. at risk", "fontSize": 23.5, "align": "left", "baseline": "middle", "color": "#000000"},
       "encoding": {"x": {"datum": -9.5, "type": "quantitative"}, "y": {"datum": -0.681, "type": "quantitative"}}}
     ]},
     {"layer": [
      {"data": {"name": "risk"}, "transform": [{"filter": "datum.p == 'D'"}],
       "mark": {"type": "text", "fontSize": 20, "baseline": "middle", "color": "#000000"},
       "encoding": {"x": {"field": "t", "type": "quantitative"}, "y": {"field": "g", "type": "nominal", "scale": {"type": "point", "domain": ["LL","LH","HH"], "range": [211, 289], "padding": 0.5}, "axis": null}, "text": {"field": "n", "type": "quantitative"}}},
      {"data": {"name": "risk"}, "transform": [{"filter": "datum.p == 'D' && datum.t == 0"}],
       "mark": {"type": "rule", "strokeWidth": 5},
       "encoding": {"x": {"datum": -9.45, "type": "quantitative"}, "x2": {"datum": -5.1}, "y": {"field": "g", "type": "nominal", "axis": null}, "color": {"field": "g", "type": "nominal", "legend": null}}}
     ]}
    ]
   },
   {
    "width": 348, "height": 122,
    "resolve": {"scale": {"y": "independent"}},
    "layer": [
     {"layer": [
      {"data": {"name": "km"}, "transform": [{"filter": "datum.p == 'F'"}],
       "mark": {"type": "line", "interpolate": "step-after", "strokeWidth": 1.5},
       "encoding": {
        "x": {"field": "t", "type": "quantitative", "scale": {"domain": [-3, 63], "nice": false, "zero": false}, "axis": {"values": [0,20,40,60], "tickCount": 8, "title": "Time (Months)", "grid": false, "domainColor": "#000000", "domainWidth": 1.2, "tickColor": "#000000", "tickWidth": 1.2, "tickSize": 5, "labelFontSize": 18.5, "labelColor": "#000000", "labelPadding": 2, "titleFontSize": 22, "titleColor": "#000000", "titlePadding": 4}},
        "y": {"field": "s", "type": "quantitative", "scale": {"domain": [-0.05, 1.05], "nice": false, "zero": false}, "axis": {"values": [0,0.25,0.5,0.75,1], "tickCount": 10, "format": ".2f", "title": "DSS Probability", "grid": false, "domainColor": "#000000", "domainWidth": 1.2, "tickColor": "#000000", "tickWidth": 1.2, "tickSize": 5, "labelFontSize": 18.5, "labelColor": "#000000", "labelPadding": 4, "titleFontSize": 22, "titleColor": "#000000", "titlePadding": 7}},
        "color": {"field": "g", "type": "nominal", "scale": {"domain": ["LL","LH","HL","HH"], "range": ["#000000","#FF0000","#0000FF","#33CC33"]}, "legend": null}
       }},
      {"data": {"name": "cens"}, "transform": [{"filter": "datum.p == 'F'"}],
       "mark": {"type": "point", "shape": "M-1,0H1M0,-1V1", "size": 110, "filled": false, "strokeWidth": 1.5, "opacity": 1},
       "encoding": {"x": {"field": "t", "type": "quantitative"}, "y": {"field": "s", "type": "quantitative"}, "color": {"field": "g", "type": "nominal", "legend": null}}},
      {"data": {"values": [{}]}, "mark": {"type": "text", "text": "NND (area) and PNI", "fontSize": 28, "align": "center", "baseline": "top", "color": "#000000"},
       "encoding": {"x": {"datum": 30, "type": "quantitative"}, "y": {"datum": 1.75, "type": "quantitative"}}},
      {"data": {"values": [{}]}, "mark": {"type": "text", "text": "Log-rank", "fontSize": 22.5, "align": "left", "baseline": "alphabetic", "color": "#000000"},
       "encoding": {"x": {"datum": 0, "type": "quantitative"}, "y": {"datum": 0.015, "type": "quantitative"}}},
      {"data": {"values": [{}]}, "mark": {"type": "text", "text": "p = 0.1", "fontSize": 22.5, "align": "left", "baseline": "alphabetic", "color": "#000000"},
       "encoding": {"x": {"datum": 28, "type": "quantitative"}, "y": {"datum": 0.015, "type": "quantitative"}}},
      {"data": {"values": [{}]}, "mark": {"type": "text", "text": "F", "fontSize": 29, "fontWeight": "bold", "align": "left", "baseline": "alphabetic", "color": "#000000"},
       "encoding": {"x": {"datum": -16.8, "type": "quantitative"}, "y": {"datum": 1.55, "type": "quantitative"}}},
      {"data": {"values": [{}]}, "mark": {"type": "text", "text": "No. at risk", "fontSize": 23.5, "align": "left", "baseline": "middle", "color": "#000000"},
       "encoding": {"x": {"datum": -9.7, "type": "quantitative"}, "y": {"datum": -0.681, "type": "quantitative"}}}
     ]},
     {"layer": [
      {"data": {"name": "risk"}, "transform": [{"filter": "datum.p == 'F'"}],
       "mark": {"type": "text", "fontSize": 20, "baseline": "middle", "color": "#000000"},
       "encoding": {"x": {"field": "t", "type": "quantitative"}, "y": {"field": "g", "type": "nominal", "scale": {"type": "point", "domain": ["LL","LH","HL","HH"], "range": [208, 286], "padding": 0.5}, "axis": null}, "text": {"field": "n", "type": "quantitative"}}},
      {"data": {"name": "risk"}, "transform": [{"filter": "datum.p == 'F' && datum.t == 0"}],
       "mark": {"type": "rule", "strokeWidth": 5},
       "encoding": {"x": {"datum": -9.3, "type": "quantitative"}, "x2": {"datum": -5.3}, "y": {"field": "g", "type": "nominal", "axis": null}, "color": {"field": "g", "type": "nominal", "legend": null}}}
     ]}
    ]
   }
  ]
 },
 {
  "spacing": 32,
  "resolve": {"scale": {"color": "independent"}, "legend": {"color": "independent"}},
  "hconcat": [
   {
    "width": 336, "height": 122,
    "resolve": {"scale": {"y": "independent"}},
    "layer": [
     {"layer": [
      {"data": {"name": "km"}, "transform": [{"filter": "datum.p == 'C'"}],
       "mark": {"type": "line", "interpolate": "step-after", "strokeWidth": 1.5},
       "encoding": {
        "x": {"field": "t", "type": "quantitative", "scale": {"domain": [-3, 63], "nice": false, "zero": false}, "axis": {"values": [0,20,40,60], "tickCount": 8, "title": "Time (Months)", "grid": false, "domainColor": "#000000", "domainWidth": 1.2, "tickColor": "#000000", "tickWidth": 1.2, "tickSize": 5, "labelFontSize": 18.5, "labelColor": "#000000", "labelPadding": 2, "titleFontSize": 22, "titleColor": "#000000", "titlePadding": 4}},
        "y": {"field": "s", "type": "quantitative", "scale": {"domain": [-0.05, 1.05], "nice": false, "zero": false}, "axis": {"values": [0,0.25,0.5,0.75,1], "tickCount": 10, "format": ".2f", "title": "DSS Probability", "grid": false, "domainColor": "#000000", "domainWidth": 1.2, "tickColor": "#000000", "tickWidth": 1.2, "tickSize": 5, "labelFontSize": 18.5, "labelColor": "#000000", "labelPadding": 4, "titleFontSize": 22, "titleColor": "#000000", "titlePadding": 7}},
        "color": {"field": "g", "type": "nominal", "scale": {"domain": ["LL","LH","HL","HH"], "range": ["#000000","#FF0000","#0000FF","#33CC33"]},
                  "legend": {"orient": "none", "legendX": -36, "legendY": 346, "title": null, "direction": "vertical", "labelFontSize": 21.5, "labelColor": "#000000", "symbolType": "M-1,0H1M0,-0.5V0.5", "symbolSize": 400, "symbolStrokeWidth": 1.5, "symbolFillColor": "transparent", "rowPadding": 6, "labelOffset": 3,
                             "labelExpr": "datum.value == 'LL' ? 'NND low and nerve-tumor dist. low' : datum.value == 'LH' ? 'NND low and nerve-tumor dist. high' : datum.value == 'HL' ? 'NND high and nerve-tumor dist. low' : 'NND high and nerve-tumor dist. high'"}}
       }},
      {"data": {"name": "cens"}, "transform": [{"filter": "datum.p == 'C'"}],
       "mark": {"type": "point", "shape": "M-1,0H1M0,-1V1", "size": 110, "filled": false, "strokeWidth": 1.5, "opacity": 1},
       "encoding": {"x": {"field": "t", "type": "quantitative"}, "y": {"field": "s", "type": "quantitative"}, "color": {"field": "g", "type": "nominal", "legend": null}}},
      {"data": {"values": [{}]}, "mark": {"type": "text", "text": ["NND (number) and min.", "nerve-tumor distance"], "fontSize": 28, "lineHeight": 25, "align": "center", "baseline": "top", "color": "#000000"},
       "encoding": {"x": {"datum": 30, "type": "quantitative"}, "y": {"datum": 1.8, "type": "quantitative"}}},
      {"data": {"values": [{}]}, "mark": {"type": "text", "text": "Log-rank", "fontSize": 22.5, "align": "left", "baseline": "alphabetic", "color": "#000000"},
       "encoding": {"x": {"datum": 0, "type": "quantitative"}, "y": {"datum": 0.015, "type": "quantitative"}}},
      {"data": {"values": [{}]}, "mark": {"type": "text", "text": "p = 0.021", "fontSize": 22.5, "align": "left", "baseline": "alphabetic", "color": "#000000"},
       "encoding": {"x": {"datum": 28, "type": "quantitative"}, "y": {"datum": 0.015, "type": "quantitative"}}},
      {"data": {"values": [{}]}, "mark": {"type": "text", "text": "C", "fontSize": 29, "fontWeight": "bold", "align": "left", "baseline": "alphabetic", "color": "#000000"},
       "encoding": {"x": {"datum": -16.6, "type": "quantitative"}, "y": {"datum": 1.6, "type": "quantitative"}}},
      {"data": {"values": [{}]}, "mark": {"type": "text", "text": "No. at risk", "fontSize": 23.5, "align": "left", "baseline": "middle", "color": "#000000"},
       "encoding": {"x": {"datum": -10, "type": "quantitative"}, "y": {"datum": -0.636, "type": "quantitative"}}}
     ]},
     {"layer": [
      {"data": {"name": "risk"}, "transform": [{"filter": "datum.p == 'C'"}],
       "mark": {"type": "text", "fontSize": 20, "baseline": "middle", "color": "#000000"},
       "encoding": {"x": {"field": "t", "type": "quantitative"}, "y": {"field": "g", "type": "nominal", "scale": {"type": "point", "domain": ["LL","LH","HL","HH"], "range": [205.5, 285.5], "padding": 0.5}, "axis": null}, "text": {"field": "n", "type": "quantitative"}}},
      {"data": {"name": "risk"}, "transform": [{"filter": "datum.p == 'C' && datum.t == 0"}],
       "mark": {"type": "rule", "strokeWidth": 5},
       "encoding": {"x": {"datum": -9.4, "type": "quantitative"}, "x2": {"datum": -5.3}, "y": {"field": "g", "type": "nominal", "axis": null}, "color": {"field": "g", "type": "nominal", "legend": null}}}
     ]}
    ]
   },
   {
    "width": 349, "height": 122,
    "resolve": {"scale": {"y": "independent"}},
    "layer": [
     {"layer": [
      {"data": {"name": "km"}, "transform": [{"filter": "datum.p == 'E'"}],
       "mark": {"type": "line", "interpolate": "step-after", "strokeWidth": 1.5},
       "encoding": {
        "x": {"field": "t", "type": "quantitative", "scale": {"domain": [-3, 63], "nice": false, "zero": false}, "axis": {"values": [0,20,40,60], "tickCount": 8, "title": "Time (Months)", "grid": false, "domainColor": "#000000", "domainWidth": 1.2, "tickColor": "#000000", "tickWidth": 1.2, "tickSize": 5, "labelFontSize": 18.5, "labelColor": "#000000", "labelPadding": 2, "titleFontSize": 22, "titleColor": "#000000", "titlePadding": 4}},
        "y": {"field": "s", "type": "quantitative", "scale": {"domain": [-0.05, 1.05], "nice": false, "zero": false}, "axis": {"values": [0,0.25,0.5,0.75,1], "tickCount": 10, "format": ".2f", "title": "DSS Probability", "grid": false, "domainColor": "#000000", "domainWidth": 1.2, "tickColor": "#000000", "tickWidth": 1.2, "tickSize": 5, "labelFontSize": 18.5, "labelColor": "#000000", "labelPadding": 4, "titleFontSize": 22, "titleColor": "#000000", "titlePadding": 7}},
        "color": {"field": "g", "type": "nominal", "scale": {"domain": ["LL","LH","HL","HH"], "range": ["#000000","#FF0000","#0000FF","#33CC33"]},
                  "legend": {"orient": "none", "legendX": 14, "legendY": 346, "title": null, "direction": "vertical", "labelFontSize": 21.5, "labelColor": "#000000", "symbolType": "M-1,0H1M0,-0.5V0.5", "symbolSize": 400, "symbolStrokeWidth": 1.5, "symbolFillColor": "transparent", "rowPadding": 6, "labelOffset": 3,
                             "labelExpr": "datum.value == 'LL' ? 'NND low and diameter low' : datum.value == 'LH' ? 'NND low and diameter high' : datum.value == 'HL' ? 'NND high and diameter low' : 'NND high and diameter high'"}}
       }},
      {"data": {"name": "cens"}, "transform": [{"filter": "datum.p == 'E'"}],
       "mark": {"type": "point", "shape": "M-1,0H1M0,-1V1", "size": 110, "filled": false, "strokeWidth": 1.5, "opacity": 1},
       "encoding": {"x": {"field": "t", "type": "quantitative"}, "y": {"field": "s", "type": "quantitative"}, "color": {"field": "g", "type": "nominal", "legend": null}}},
      {"data": {"values": [{}]}, "mark": {"type": "text", "text": ["NND (number) and max.", "nerve diameter"], "fontSize": 28, "lineHeight": 25, "align": "center", "baseline": "top", "color": "#000000"},
       "encoding": {"x": {"datum": 30, "type": "quantitative"}, "y": {"datum": 1.8, "type": "quantitative"}}},
      {"data": {"values": [{}]}, "mark": {"type": "text", "text": "Log-rank", "fontSize": 22.5, "align": "left", "baseline": "alphabetic", "color": "#000000"},
       "encoding": {"x": {"datum": 0, "type": "quantitative"}, "y": {"datum": 0.015, "type": "quantitative"}}},
      {"data": {"values": [{}]}, "mark": {"type": "text", "text": "p = 0.013", "fontSize": 22.5, "align": "left", "baseline": "alphabetic", "color": "#000000"},
       "encoding": {"x": {"datum": 28, "type": "quantitative"}, "y": {"datum": 0.015, "type": "quantitative"}}},
      {"data": {"values": [{}]}, "mark": {"type": "text", "text": "E", "fontSize": 29, "fontWeight": "bold", "align": "left", "baseline": "alphabetic", "color": "#000000"},
       "encoding": {"x": {"datum": -16.5, "type": "quantitative"}, "y": {"datum": 1.6, "type": "quantitative"}}},
      {"data": {"values": [{}]}, "mark": {"type": "text", "text": "No. at risk", "fontSize": 23.5, "align": "left", "baseline": "middle", "color": "#000000"},
       "encoding": {"x": {"datum": -9.5, "type": "quantitative"}, "y": {"datum": -0.636, "type": "quantitative"}}}
     ]},
     {"layer": [
      {"data": {"name": "risk"}, "transform": [{"filter": "datum.p == 'E'"}],
       "mark": {"type": "text", "fontSize": 20, "baseline": "middle", "color": "#000000"},
       "encoding": {"x": {"field": "t", "type": "quantitative"}, "y": {"field": "g", "type": "nominal", "scale": {"type": "point", "domain": ["LL","LH","HL","HH"], "range": [205.5, 285.5], "padding": 0.5}, "axis": null}, "text": {"field": "n", "type": "quantitative"}}},
      {"data": {"name": "risk"}, "transform": [{"filter": "datum.p == 'E' && datum.t == 0"}],
       "mark": {"type": "rule", "strokeWidth": 5},
       "encoding": {"x": {"datum": -9.45, "type": "quantitative"}, "x2": {"datum": -5.1}, "y": {"field": "g", "type": "nominal", "axis": null}, "color": {"field": "g", "type": "nominal", "legend": null}}}
     ]}
    ]
   },
   {
    "width": 348, "height": 122,
    "resolve": {"scale": {"y": "independent"}},
    "layer": [
     {"layer": [
      {"data": {"name": "km"}, "transform": [{"filter": "datum.p == 'G'"}],
       "mark": {"type": "line", "interpolate": "step-after", "strokeWidth": 1.5},
       "encoding": {
        "x": {"field": "t", "type": "quantitative", "scale": {"domain": [-3, 63], "nice": false, "zero": false}, "axis": {"values": [0,20,40,60], "tickCount": 8, "title": "Time (Months)", "grid": false, "domainColor": "#000000", "domainWidth": 1.2, "tickColor": "#000000", "tickWidth": 1.2, "tickSize": 5, "labelFontSize": 18.5, "labelColor": "#000000", "labelPadding": 2, "titleFontSize": 22, "titleColor": "#000000", "titlePadding": 4}},
        "y": {"field": "s", "type": "quantitative", "scale": {"domain": [-0.05, 1.05], "nice": false, "zero": false}, "axis": {"values": [0,0.25,0.5,0.75,1], "tickCount": 10, "format": ".2f", "title": "DSS Probability", "grid": false, "domainColor": "#000000", "domainWidth": 1.2, "tickColor": "#000000", "tickWidth": 1.2, "tickSize": 5, "labelFontSize": 18.5, "labelColor": "#000000", "labelPadding": 4, "titleFontSize": 22, "titleColor": "#000000", "titlePadding": 7}},
        "color": {"field": "g", "type": "nominal", "scale": {"domain": ["LL","LH","HL","HH"], "range": ["#000000","#FF0000","#0000FF","#33CC33"]},
                  "legend": {"orient": "none", "legendX": 54, "legendY": 346, "title": null, "direction": "vertical", "labelFontSize": 21.5, "labelColor": "#000000", "symbolType": "M-1,0H1M0,-0.5V0.5", "symbolSize": 400, "symbolStrokeWidth": 1.5, "symbolFillColor": "transparent", "rowPadding": 6, "labelOffset": 3,
                             "labelExpr": "datum.value == 'LL' ? 'NND low and PNI-' : datum.value == 'LH' ? 'NND low and PNI+' : datum.value == 'HL' ? 'NND high and PNI-' : 'NND high and PNI+'"}}
       }},
      {"data": {"name": "cens"}, "transform": [{"filter": "datum.p == 'G'"}],
       "mark": {"type": "point", "shape": "M-1,0H1M0,-1V1", "size": 110, "filled": false, "strokeWidth": 1.5, "opacity": 1},
       "encoding": {"x": {"field": "t", "type": "quantitative"}, "y": {"field": "s", "type": "quantitative"}, "color": {"field": "g", "type": "nominal", "legend": null}}},
      {"data": {"values": [{}]}, "mark": {"type": "text", "text": "NND (number) and PNI", "fontSize": 28, "align": "center", "baseline": "top", "color": "#000000"},
       "encoding": {"x": {"datum": 30, "type": "quantitative"}, "y": {"datum": 1.8, "type": "quantitative"}}},
      {"data": {"values": [{}]}, "mark": {"type": "text", "text": "Log-rank", "fontSize": 22.5, "align": "left", "baseline": "alphabetic", "color": "#000000"},
       "encoding": {"x": {"datum": 0, "type": "quantitative"}, "y": {"datum": 0.015, "type": "quantitative"}}},
      {"data": {"values": [{}]}, "mark": {"type": "text", "text": "p = 0.015", "fontSize": 22.5, "align": "left", "baseline": "alphabetic", "color": "#000000"},
       "encoding": {"x": {"datum": 28, "type": "quantitative"}, "y": {"datum": 0.015, "type": "quantitative"}}},
      {"data": {"values": [{}]}, "mark": {"type": "text", "text": "G", "fontSize": 29, "fontWeight": "bold", "align": "left", "baseline": "alphabetic", "color": "#000000"},
       "encoding": {"x": {"datum": -16.8, "type": "quantitative"}, "y": {"datum": 1.6, "type": "quantitative"}}},
      {"data": {"values": [{}]}, "mark": {"type": "text", "text": "No. at risk", "fontSize": 23.5, "align": "left", "baseline": "middle", "color": "#000000"},
       "encoding": {"x": {"datum": -9.7, "type": "quantitative"}, "y": {"datum": -0.636, "type": "quantitative"}}}
     ]},
     {"layer": [
      {"data": {"name": "risk"}, "transform": [{"filter": "datum.p == 'G'"}],
       "mark": {"type": "text", "fontSize": 20, "baseline": "middle", "color": "#000000"},
       "encoding": {"x": {"field": "t", "type": "quantitative"}, "y": {"field": "g", "type": "nominal", "scale": {"type": "point", "domain": ["LL","LH","HL","HH"], "range": [205.5, 285.5], "padding": 0.5}, "axis": null}, "text": {"field": "n", "type": "quantitative"}}},
      {"data": {"name": "risk"}, "transform": [{"filter": "datum.p == 'G' && datum.t == 0"}],
       "mark": {"type": "rule", "strokeWidth": 5},
       "encoding": {"x": {"datum": -9.3, "type": "quantitative"}, "x2": {"datum": -5.3}, "y": {"field": "g", "type": "nominal", "axis": null}, "color": {"field": "g", "type": "nominal", "legend": null}}}
     ]}
    ]
   }
  ]
 }
 ]
}
]
}
